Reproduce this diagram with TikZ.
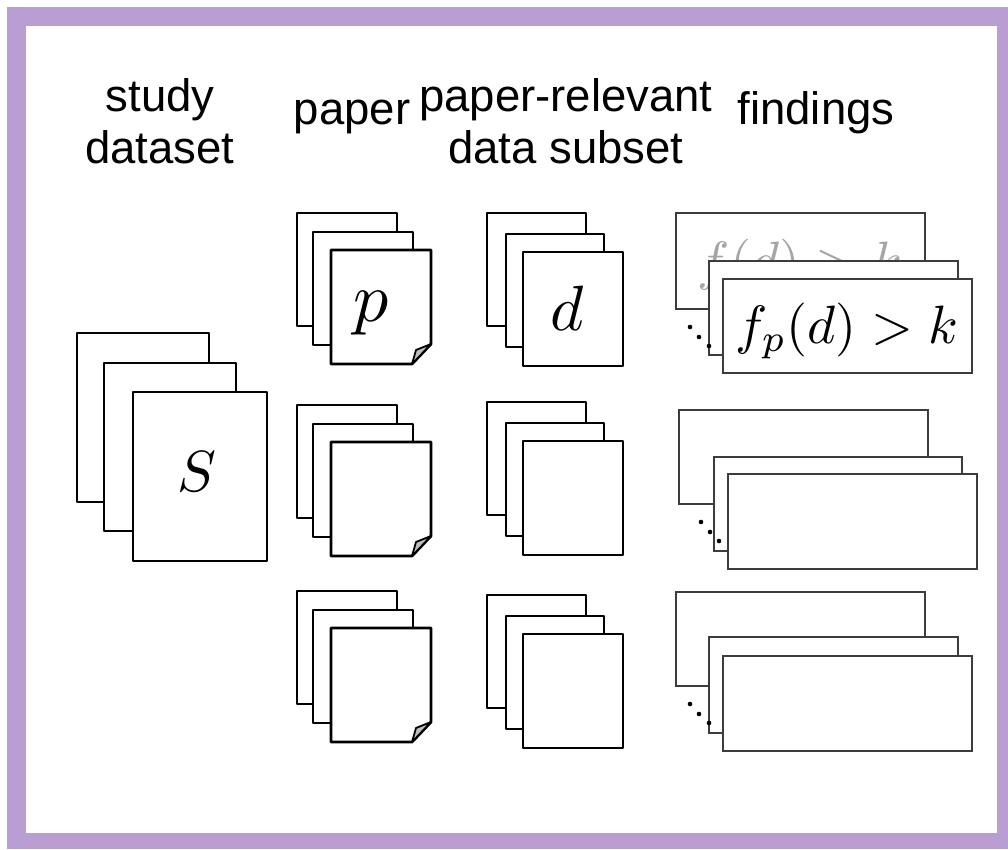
\documentclass[tikz,border=0pt]{standalone}
\usepackage{fontspec}
\setmainfont{Liberation Sans}
\definecolor{framepurple}{RGB}{185,157,211}
\definecolor{flapgray}{RGB}{190,190,190}
\definecolor{ghostgray}{RGB}{165,165,165}
\definecolor{boxline}{RGB}{60,60,60}
\begin{document}
\begin{tikzpicture}[x=1pt,y=-1pt,
  sheet/.style={draw=black,fill=white,line width=2.8pt,line join=round},
  flap/.style={draw=black,fill=flapgray,line width=1.8pt,line join=round},
  findbox/.style={draw=boxline,fill=white,line width=1.4pt},
  title/.style={font=\fontsize{45.5}{52}\selectfont,align=center,inner sep=0pt},
  bigmath/.style={inner sep=0pt},
  dotmark/.style={fill=black}
]
\useasboundingbox (0,0) rectangle (1008,849);
% frame
\fill[white] (0,0) rectangle (1008,849);
\fill[framepurple] (7,7) rectangle (1008,849);
\fill[white] (26,26) rectangle (997,833);

% titles
\node[title] (tstudy) at (160,121) {study\\dataset};
\node[title] (tpaper) at (352,117) {paper};
\node[title] (tsubset) at (566,121) {paper-relevant\\data subset};
\node[title] (tfind) at (816,113) {findings};

% study dataset stack
\filldraw[sheet] (77,333) rectangle (209,502);
\filldraw[sheet] (104,363) rectangle (236,531);
\filldraw[sheet] (133,392) rectangle (267,561);
\node[bigmath,scale=5.8] (S) at (197,472) {$S$};

% paper stacks (with folded corner on the front sheet)
\foreach \y/\n in {213/1,405/2,591/3}{
  \filldraw[sheet] (297,\y) rectangle ++(100,113);
  \filldraw[sheet] (313,\y+19) rectangle ++(100,113);
  \filldraw[sheet] (331,\y+37) -- ++(100,0) -- ++(0,94) -- ++(-19,20) -- ++(-81,0) -- cycle;
  \filldraw[flap] (412,\y+151) -- (431,\y+131) -- (416,\y+137) -- cycle;
}
\node[bigmath,scale=7] (p) at (371,313) {$p$};

% data subset stacks
\foreach \y/\n in {213/1,402/2,595/3}{
  \filldraw[sheet] (487,\y) rectangle ++(99,113);
  \filldraw[sheet] (506,\y+21) rectangle ++(98,113);
  \filldraw[sheet] (523,\y+39) rectangle ++(100,114);
}
\node[bigmath,scale=6.4] (d) at (567,308) {$d$};

% findings stacks
% top
\filldraw[findbox] (676,213) rectangle (925,309);
\node[bigmath,text=ghostgray,scale=5.4] (fd) at (800,266) {$f(d)>k$};
\filldraw[findbox] (709,261) rectangle (958,355);
\filldraw[findbox] (723,279) rectangle (972,373);
\node[bigmath,scale=5.4] (fpd) at (847,331) {$f_p(d)>k$};
\fill[dotmark] (690,327) circle (2.3) (699,337) circle (2.3) (709,346) circle (2.3);
% middle
\filldraw[findbox] (679,410) rectangle (928,504);
\filldraw[findbox] (714,457) rectangle (962,551);
\filldraw[findbox] (728,474) rectangle (977,569);
\fill[dotmark] (701,522) circle (2.3) (710,532) circle (2.3) (719,541) circle (2.3);
% bottom
\filldraw[findbox] (676,592) rectangle (925,686);
\filldraw[findbox] (709,637) rectangle (958,733);
\filldraw[findbox] (723,656) rectangle (972,751);
\fill[dotmark] (690,704) circle (2.3) (699,714) circle (2.3) (709,723) circle (2.3);
\end{tikzpicture}
\end{document}
